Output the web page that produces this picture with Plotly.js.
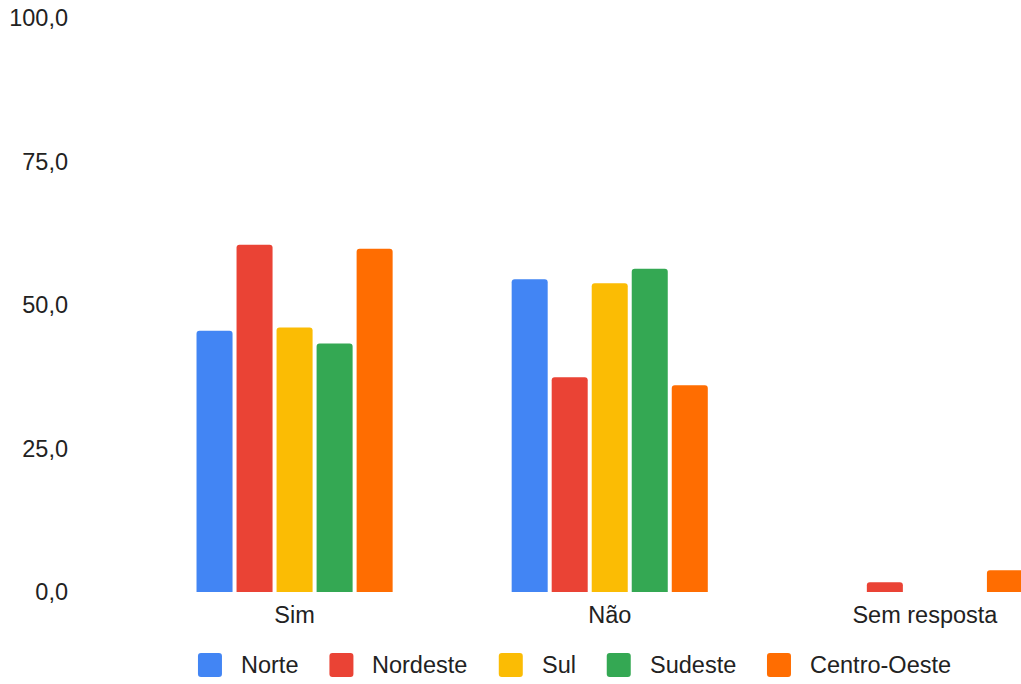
<!DOCTYPE html>
<html>
<head>
<meta charset="utf-8">
<script src="https://cdn.plot.ly/plotly-3.0.1.min.js"></script>
<style>html,body{margin:0;padding:0;background:#fff;}#chart{width:1021px;height:684px;}</style>
</head>
<body>
<div id="chart"></div>
<script>
const categories = ["Sim", "Não", "Sem resposta"];
const regions = ["Norte", "Nordeste", "Sul", "Sudeste", "Centro-Oeste"];
const norte = [45.5, 54.5, 0];
const nordeste = [60.5, 37.4, 1.7];
const sul = [46.1, 53.8, 0];
const sudeste = [43.3, 56.3, 0];
const centroOeste = [59.8, 36.0, 3.8];
const colors = ["#4285F4", "#EA4335", "#FBBC04", "#34A853", "#FF6D01"];
const yTicks = [0, 25, 50, 75, 100];

const FONT = "'Liberation Sans', Arial, sans-serif";
const FSIZE = 23.5;
const TXT = "#222222";

const W = 1021, H = 684;
const M = {l: 137, r: 0, t: 18, b: 92};
const plotW = W - M.l - M.r, plotH = H - M.t - M.b;
const px2x = px => (px - M.l) / plotW;
const py2y = py => (H - M.b - py) / plotH;

const series = [norte, nordeste, sul, sudeste, centroOeste];
const traces = series.map((vals, i) => ({
  type: "bar",
  name: regions[i],
  x: categories,
  y: vals,
  marker: {color: colors[i]},
  showlegend: false,
  hoverinfo: "x+y+name"
}));

// custom legend (rounded squares + labels), laid out from measured text widths
const ctx = document.createElement("canvas").getContext("2d");
ctx.font = FSIZE + "px " + FONT;
const SQ = 24, GAP1 = 17, GAP2 = 33;
const widths = regions.map(r => ctx.measureText(r).width);
const total = widths.reduce((s, w) => s + SQ + GAP1 + w + GAP2, 0) - GAP2;
let cx = 573.5 - total / 2;
const legY = 665;
const shapes = [], annotations = [];
regions.forEach((r, i) => {
  const x0 = cx, x1 = cx + SQ, y0 = legY - SQ / 2, y1 = legY + SQ / 2, rr = 3;
  const X = px2x, Y = py2y;
  const path = `M ${X(x0 + rr)},${Y(y0)} L ${X(x1 - rr)},${Y(y0)} Q ${X(x1)},${Y(y0)} ${X(x1)},${Y(y0 + rr)} ` +
    `L ${X(x1)},${Y(y1 - rr)} Q ${X(x1)},${Y(y1)} ${X(x1 - rr)},${Y(y1)} L ${X(x0 + rr)},${Y(y1)} ` +
    `Q ${X(x0)},${Y(y1)} ${X(x0)},${Y(y1 - rr)} L ${X(x0)},${Y(y0 + rr)} Q ${X(x0)},${Y(y0)} ${X(x0 + rr)},${Y(y0)} Z`;
  shapes.push({type: "path", xref: "paper", yref: "paper", path: path,
    fillcolor: colors[i], line: {width: 0}, layer: "above"});
  annotations.push({xref: "paper", yref: "paper", x: px2x(cx + SQ + GAP1), y: py2y(legY),
    xanchor: "left", yanchor: "middle", text: r, showarrow: false,
    font: {family: FONT, size: FSIZE, color: TXT}});
  cx += SQ + GAP1 + widths[i] + GAP2;
});

const layout = {
  width: W, height: H,
  margin: M,
  paper_bgcolor: "#fff", plot_bgcolor: "#fff",
  separators: ",.",
  barmode: "group",
  bargap: 0.365,
  bargroupgap: 0.1,
  barcornerradius: 3,
  font: {family: FONT, size: FSIZE, color: TXT},
  xaxis: {
    type: "category",
    range: [-0.5, 2.305],
    showgrid: false, zeroline: false, showline: false,
    ticks: "", ticklabelstandoff: 6,
    tickfont: {family: FONT, size: FSIZE, color: TXT}
  },
  yaxis: {
    range: [0, 100],
    tickvals: yTicks,
    tickformat: ".1f",
    showgrid: false, zeroline: false, showline: false,
    ticks: "", ticklabelstandoff: 68,
    tickfont: {family: FONT, size: FSIZE, color: TXT}
  },
  shapes: shapes,
  annotations: annotations,
  showlegend: false
};

Plotly.newPlot("chart", traces, layout, {displayModeBar: false, responsive: false});
</script>
</body>
</html>
